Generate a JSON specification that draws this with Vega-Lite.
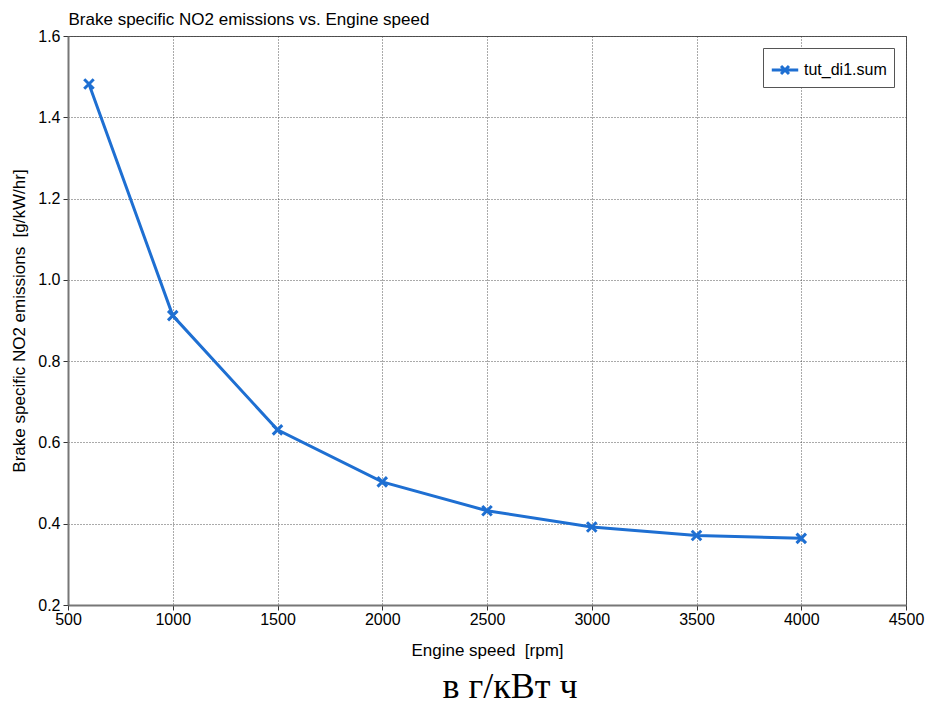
{
  "$schema": "https://vega.github.io/schema/vega-lite/v6.json",
  "autosize": {"type": "none"},
  "padding": {"left": 68, "top": 36, "right": 20, "bottom": 101},
  "width": 838,
  "height": 569,
  "background": "white",
  "config": {
    "font": "Liberation Sans",
    "view": {"stroke": "#555", "strokeWidth": 1},
    "axis": {
      "labelFont": "Liberation Sans",
      "titleFont": "Liberation Sans",
      "labelFontSize": 16,
      "titleFontSize": 17,
      "titleFontWeight": "normal",
      "labelColor": "#000",
      "titleColor": "#000",
      "domainColor": "#777",
      "domainWidth": 2,
      "tickColor": "#333",
      "tickSize": 5,
      "gridColor": "#444",
      "gridDash": [1, 2],
      "gridOpacity": 0.9
    }
  },
  "title": {
    "text": "в г/кВт ч",
    "orient": "bottom",
    "anchor": "middle",
    "font": "Liberation Serif",
    "fontSize": 36,
    "fontWeight": "normal",
    "color": "#000",
    "offset": 12,
    "dx": 23
  },
  "data": {
    "values": [
      {"speed": 600, "bsno2": 1.482, "series": "tut_di1.sum"},
      {"speed": 1000, "bsno2": 0.912, "series": "tut_di1.sum"},
      {"speed": 1500, "bsno2": 0.631, "series": "tut_di1.sum"},
      {"speed": 2000, "bsno2": 0.503, "series": "tut_di1.sum"},
      {"speed": 2500, "bsno2": 0.432, "series": "tut_di1.sum"},
      {"speed": 3000, "bsno2": 0.392, "series": "tut_di1.sum"},
      {"speed": 3500, "bsno2": 0.371, "series": "tut_di1.sum"},
      {"speed": 4000, "bsno2": 0.364, "series": "tut_di1.sum"}
    ]
  },
  "resolve": {"axis": {"x": "independent"}},
  "layer": [
    {
      "mark": {"type": "line", "strokeWidth": 3},
      "encoding": {
        "x": {
          "field": "speed", "type": "quantitative",
          "scale": {"domain": [500, 4500], "nice": false, "zero": false},
          "axis": {"title": "Engine speed\u00a0 [rpm]", "values": [500,1000,1500,2000,2500,3000,3500,4000,4500], "format": "d", "labelPadding": 1, "titlePadding": 15, "labelFlush": false, "labelOverlap": false}
        },
        "y": {
          "field": "bsno2", "type": "quantitative",
          "scale": {"domain": [0.2, 1.6], "nice": false, "zero": false},
          "axis": {"title": "Brake specific NO2 emissions\u00a0 [g/kW/hr]", "values": [0.2,0.4,0.6,0.8,1.0,1.2,1.4,1.6], "format": ".1f", "labelPadding": 3, "titlePadding": 9}
        },
        "color": {
          "field": "series", "type": "nominal",
          "scale": {"range": ["#1E6FD2"]},
          "legend": {
            "title": null,
            "orient": "top-right",
            "offset": 12,
            "strokeColor": "#555",
            "padding": 7,
            "labelFontSize": 16,
            "labelFont": "Liberation Sans",
            "labelColor": "#000",
            "symbolType": "M-1,0L1,0M-0.3,-0.3L0.3,0.3M-0.3,0.3L0.3,-0.3",
            "symbolSize": 700,
            "symbolStrokeWidth": 3,
            "fillColor": "white"
          }
        }
      }
    },
    {
      "mark": {"type": "point", "shape": "M-1,-1L1,1M-1,1L1,-1", "filled": false, "size": 90, "strokeWidth": 3, "opacity": 1},
      "encoding": {
        "x": {
          "field": "speed", "type": "quantitative",
          "scale": {"domain": [500, 4500], "nice": false, "zero": false},
          "axis": {"orient": "top", "title": "Brake specific NO2 emissions vs. Engine speed", "titleFontSize": 17, "titleAnchor": "start", "titleAlign": "left", "labels": false, "ticks": false, "grid": false, "domain": false, "titlePadding": 8}
        },
        "y": {"field": "bsno2", "type": "quantitative"},
        "color": {"field": "series", "type": "nominal"}
      }
    }
  ]
}
